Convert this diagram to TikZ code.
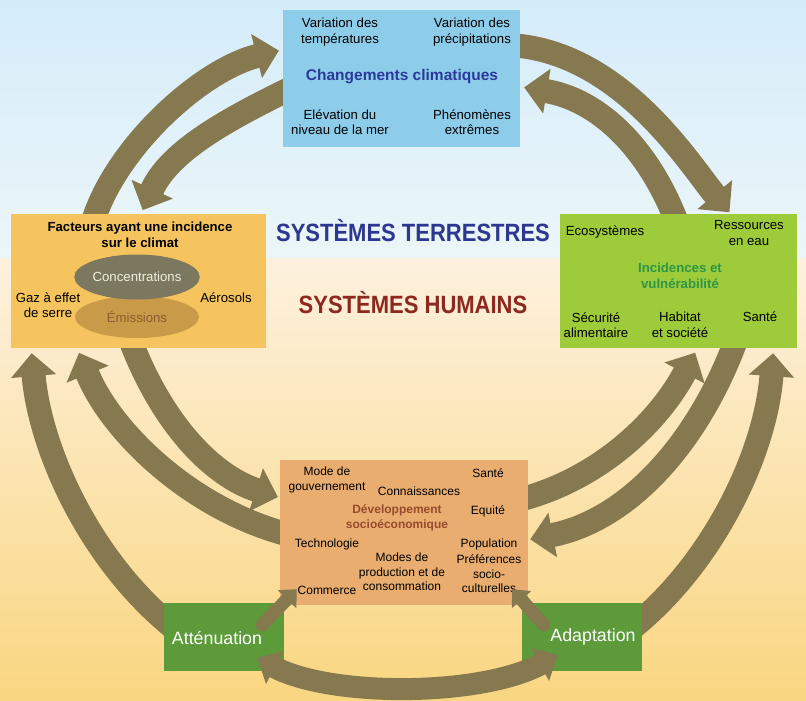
\documentclass[tikz,border=0pt]{standalone}
\usepackage{fontspec}
\setmainfont{Liberation Sans}
\usetikzlibrary{calc}
\usetikzlibrary{arrows.meta}
\usetikzlibrary{shapes.geometric}

\definecolor{arrowol}{RGB}{134,121,80}
\definecolor{skytop}{RGB}{212,236,250}
\definecolor{skylow}{RGB}{236,246,248}
\definecolor{sandtop}{RGB}{253,241,222}
\definecolor{sandlow}{RGB}{249,214,128}
\definecolor{climfill}{RGB}{142,205,234}
\definecolor{climblue}{RGB}{43,57,154}
\definecolor{facfill}{RGB}{246,196,94}
\definecolor{concfill}{RGB}{124,120,96}
\definecolor{conctext}{RGB}{242,238,222}
\definecolor{emisfill}{RGB}{201,155,72}
\definecolor{emistext}{RGB}{140,92,50}
\definecolor{impfill}{RGB}{157,203,58}
\definecolor{impgreen}{RGB}{46,150,70}
\definecolor{devfill}{RGB}{233,173,112}
\definecolor{devbrown}{RGB}{150,75,45}
\definecolor{actgreen}{RGB}{92,154,58}
\definecolor{terrblue}{RGB}{45,55,145}
\definecolor{humred}{RGB}{140,40,30}

\pgfdeclarelayer{back}
\pgfdeclarelayer{mid}
\pgfsetlayers{back,mid,main}

\begin{document}
\begin{tikzpicture}[x=1pt, y=-1pt,
        box/.style={rectangle, inner sep=0pt},
        txt/.style={align=center, inner sep=0pt, font=\fontsize{13.2}{15.5}\selectfont},
        celltxt/.style={align=center, inner sep=0pt, font=\fontsize{12}{14.5}\selectfont},
        ttl/.style={align=center, inner sep=0pt, font=\bfseries\fontsize{13.2}{16}\selectfont},
        flow/.style={draw=arrowol, line width=24pt, -{Triangle[width=44pt,length=23pt]}},
        stub/.style={draw=arrowol, line width=13pt, line cap=round, -{Triangle[width=25pt,length=14pt]}}]
        \useasboundingbox (0,0) rectangle (806,701);

        % climate change
        \node[box, fill=climfill, minimum width=237pt, minimum height=137pt] (top) at (401.5,78.5) {};
        \node[txt] (tmp) at (340,32) {Variation des\\températures};
        \node[txt] (prec) at (472,32) {Variation des\\précipitations};
        \node[ttl, text=climblue, font=\bfseries\fontsize{15.5}{18}\selectfont] (clim) at (402,77) {Changements climatiques};
        \node[txt] (mer) at (340,122) {Elévation du\\niveau de la mer};
        \node[txt] (ext) at (472,122) {Phénomènes\\extrêmes};

        % drivers
        \node[box, fill=facfill, minimum width=255pt, minimum height=134pt] (lft) at (138.5,281) {};
        \node[ttl] (fac) at (140,235) {Facteurs ayant une incidence\\sur le climat};
        \node[txt, ellipse, fill=emisfill, text=emistext, minimum width=124pt, minimum height=42pt] (emis) at (137,317) {Émissions};
        \node[txt, ellipse, fill=concfill, text=conctext, minimum width=125pt, minimum height=45pt] (conc) at (137,277) {Concentrations};
        \node[txt] (ges) at (48,305) {Gaz à effet\\de serre};
        \node[txt] (aer) at (226,298) {Aérosols};

        % impacts
        \node[box, fill=impfill, minimum width=237pt, minimum height=134pt] (rgt) at (678.5,281) {};
        \node[txt] (eco) at (605,232) {Ecosystèmes};
        \node[txt] (eau) at (749,233) {Ressources\\en eau};
        \node[ttl, text=impgreen] (imp) at (680,276) {Incidences et\\vulnérabilité};
        \node[txt] (alim) at (596,325) {Sécurité\\alimentaire};
        \node[txt] (hab) at (680,325) {Habitat\\et société};
        \node[txt] (sant) at (760,317) {Santé};

        % socio-economic development
        \node[box, fill=devfill, minimum width=248pt, minimum height=145pt] (cen) at (404,532.5) {};
        \node[celltxt] (gouv) at (327,480) {Mode de\\gouvernement};
        \node[celltxt] (csan) at (488,473) {Santé};
        \node[celltxt] (conn) at (419,491) {Connaissances};
        \node[ttl, text=devbrown, font=\bfseries\fontsize{12}{14.5}\selectfont] (dev) at (397,518) {Développement\\socioéconomique};
        \node[celltxt] (equi) at (488,511) {Equité};
        \node[celltxt] (tech) at (327,544) {Technologie};
        \node[celltxt] (popu) at (489,544) {Population};
        \node[celltxt] (prod) at (402,572) {Modes de\\production et de\\consommation};
        \node[celltxt] (pref) at (489,574) {Préférences\\socio-\\culturelles};
        \node[celltxt] (comm) at (327,590) {Commerce};

        % responses
        \node[box, fill=actgreen, minimum width=120pt, minimum height=68pt] (att) at (224,637) {};
        \node[text=white, inner sep=0pt, font=\fontsize{17.8}{20}\selectfont] (attl) at (217,638) {Atténuation};
        \node[box, fill=actgreen, minimum width=120pt, minimum height=68pt] (adp) at (582,637) {};
        \node[text=white, inner sep=0pt, font=\fontsize{17.8}{20}\selectfont] (adpl) at (593,637) {Adaptation};

        \node[anchor=base, inner sep=0pt, text=terrblue, font=\bfseries\fontsize{25}{30}\selectfont] (terr) at (413,241) {\scalebox{0.88}[1]{SYSTÈMES TERRESTRES}};
        \node[anchor=base, inner sep=0pt, text=humred, font=\bfseries\fontsize{25}{30}\selectfont] (hum) at (413,313) {\scalebox{0.88}[1]{SYSTÈMES HUMAINS}};

        \begin{pgfonlayer}{back}
            \shade[top color=skytop, bottom color=skylow] (0,0) rectangle (806,258);
            \shade[top color=sandtop, bottom color=sandlow] (0,258) rectangle (806,701);
        \end{pgfonlayer}

        % big loop arrows, under the boxes
        \begin{pgfonlayer}{mid}
            \draw[flow, shorten <=-12pt, shorten >=4pt] ($(lft.north west)!0.33!(lft.north east)$) .. controls (113,150) and (200,70) .. ($(top.north west)!0.29!(top.south west)$);
            \draw[flow, shorten <=-12pt, shorten >=4pt] ($(top.north west)!0.6!(top.south west)$) .. controls (230,118) and (170,150) .. ($(lft.north west)!0.51!(lft.north east)$);
            \draw[flow, shorten <=-12pt, shorten >=2pt] ($(top.north east)!0.26!(top.south east)$) .. controls (620,50) and (690,165) .. ($(rgt.north west)!0.72!(rgt.north east)$);
            \draw[flow, shorten <=-12pt, shorten >=4pt] ($(rgt.north west)!0.48!(rgt.north east)$) .. controls (650,150) and (600,100) .. ($(top.north east)!0.56!(top.south east)$);
            \draw[flow, shorten <=-12pt, shorten >=5pt] ($(att.north west)!0.25!(att.south west)$) .. controls (90,560) and (40,450) .. ($(lft.south west)!0.08!(lft.south east)$);
            \draw[flow, shorten <=-12pt, shorten >=5pt] ($(cen.north west)!0.5!(cen.south west)$) .. controls (190,510) and (110,430) .. ($(lft.south west)!0.26!(lft.south east)$);
            \draw[flow, shorten <=-12pt, shorten >=2pt] ($(lft.south west)!0.48!(lft.south east)$) .. controls (160,420) and (210,475) .. ($(cen.north west)!0.26!(cen.south west)$);
            \draw[flow, shorten <=-12pt, shorten >=5pt] ($(cen.north east)!0.26!(cen.south east)$) .. controls (600,480) and (660,420) .. ($(rgt.south west)!0.58!(rgt.south east)$);
            \draw[flow, shorten <=-12pt, shorten >=2pt] ($(rgt.south west)!0.73!(rgt.south east)$) .. controls (700,440) and (630,520) .. ($(cen.north east)!0.55!(cen.south east)$);
            \draw[flow, shorten <=-12pt, shorten >=5pt] ($(adp.north east)!0.25!(adp.south east)$) .. controls (716,560) and (766,450) .. ($(rgt.south west)!0.9!(rgt.south east)$);
        \end{pgfonlayer}

        % responses acting on development and on each other
        \draw[stub] ($(att.north east)+(-22,22)$) -- ($(cen.south west)+(17,-16)$);
        \draw[stub] ($(adp.north west)+(22,22)$) -- ($(cen.south east)+(-16,-16)$);
        \draw[draw=arrowol, line width=22pt, {Triangle[width=36pt,length=20pt]}-{Triangle[width=36pt,length=20pt]}] ($(att.east)+(-27,21)$) .. controls (330,697) and (480,697) .. ($(adp.west)+(36,18)$);
\end{tikzpicture}
\end{document}
